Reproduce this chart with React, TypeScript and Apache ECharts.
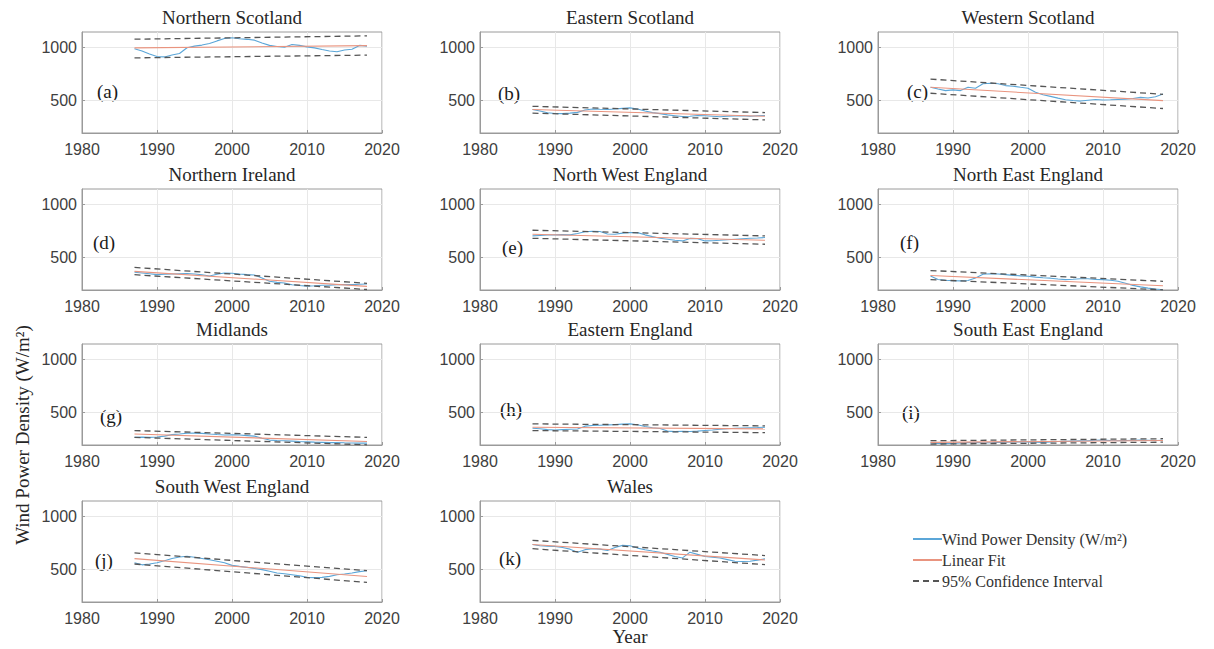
import React, { useEffect, useRef } from "react";
import * as echarts from "echarts";

const regions = [
  "Northern Scotland", "Eastern Scotland", "Western Scotland",
  "Northern Ireland", "North West England", "North East England",
  "Midlands", "Eastern England", "South East England",
  "South West England", "Wales",
];
const panelTags = ["(a)", "(b)", "(c)", "(d)", "(e)", "(f)", "(g)", "(h)", "(i)", "(j)", "(k)"];

const years = [
  1987, 1988, 1989, 1990, 1991, 1992, 1993, 1994, 1995, 1996, 1997, 1998, 1999, 2000, 2001, 2002,
  2003, 2004, 2005, 2006, 2007, 2008, 2009, 2010, 2011, 2012, 2013, 2014, 2015, 2016, 2017, 2018,
];

const wpdNorthernScotland = [990, 968, 940, 915, 912, 930, 945, 1000, 1015, 1025, 1040, 1065, 1088, 1095, 1085, 1080, 1072, 1045, 1022, 1012, 1005, 1030, 1022, 1008, 998, 982, 968, 962, 978, 985, 1022, 1015];
const wpdEasternScotland = [410, 395, 378, 372, 370, 375, 382, 405, 415, 412, 410, 415, 420, 425, 415, 395, 380, 370, 358, 350, 342, 345, 352, 350, 345, 340, 345, 348, 350, 345, 350, 352];
const wpdWesternScotland = [622, 605, 590, 597, 590, 622, 613, 655, 661, 655, 638, 632, 622, 613, 575, 550, 535, 518, 502, 495, 490, 498, 505, 500, 502, 505, 508, 515, 525, 520, 532, 558];
const wpdNorthernIreland = [355, 348, 340, 332, 335, 338, 340, 342, 338, 330, 318, 335, 348, 345, 338, 332, 328, 300, 268, 258, 252, 235, 228, 222, 225, 230, 232, 235, 238, 236, 240, 242];
const wpdNorthWestEngland = [702, 706, 710, 712, 714, 712, 725, 742, 746, 744, 720, 718, 728, 734, 733, 712, 695, 680, 670, 660, 654, 678, 676, 654, 656, 660, 665, 670, 675, 679, 682, 686];
const wpdNorthEastEngland = [318, 285, 278, 274, 272, 276, 300, 335, 340, 338, 332, 325, 320, 316, 308, 302, 298, 290, 284, 288, 293, 292, 286, 284, 278, 268, 250, 229, 215, 203, 195, 188];
const wpdMidlands = [258, 260, 258, 262, 270, 284, 290, 297, 298, 296, 290, 285, 281, 282, 280, 275, 270, 250, 232, 228, 226, 222, 218, 215, 212, 210, 208, 209, 206, 204, 203, 203];
const wpdEasternEngland = [345, 340, 332, 329, 332, 335, 338, 365, 371, 374, 377, 380, 384, 387, 378, 361, 350, 342, 318, 313, 316, 314, 318, 323, 328, 335, 340, 345, 348, 350, 352, 355];
const wpdSouthEastEngland = [205, 200, 198, 200, 205, 208, 210, 205, 206, 210, 212, 214, 216, 215, 212, 210, 214, 218, 220, 222, 224, 226, 230, 232, 228, 226, 228, 230, 232, 230, 228, 230];
const wpdSouthWestEngland = [560, 540, 548, 560, 580, 600, 615, 622, 612, 600, 588, 575, 560, 535, 525, 516, 505, 494, 478, 462, 455, 446, 435, 420, 418, 420, 430, 446, 452, 462, 475, 484];
const wpdWales = [735, 722, 718, 716, 705, 690, 661, 685, 694, 690, 677, 705, 726, 722, 700, 684, 672, 661, 640, 619, 606, 661, 640, 619, 612, 606, 590, 574, 572, 575, 585, 597];

const wpdSeries = [
  wpdNorthernScotland, wpdEasternScotland, wpdWesternScotland,
  wpdNorthernIreland, wpdNorthWestEngland, wpdNorthEastEngland,
  wpdMidlands, wpdEasternEngland, wpdSouthEastEngland,
  wpdSouthWestEngland, wpdWales,
];

// Linear fit and 95% confidence bounds at 1987 and 2018
const fitStart = [998, 410, 622, 363, 718, 323, 290, 355, 210, 599, 735];
const fitEnd = [1020, 345, 494, 220, 660, 226, 219, 339, 228, 429, 587];
const upperStart = [1081, 440, 700, 401, 756, 371, 323, 387, 226, 654, 774];
const upperEnd = [1113, 380, 555, 249, 702, 268, 258, 368, 245, 484, 629];
const lowerStart = [903, 375, 565, 331, 679, 284, 258, 323, 194, 548, 694];
const lowerEnd = [929, 310, 419, 190, 622, 187, 187, 303, 212, 372, 542];

const xTicks = [1980, 1990, 2000, 2010, 2020];
const yTicks = [500, 1000];

const NAME_WPD = "Wind Power Density (W/m²)";
const NAME_FIT = "Linear Fit";
const NAME_CI = "95% Confidence Interval";

const BLUE = "#5ba6d8";
const RED = "#e9947f";
const GREY = "#555555";
const SERIF = '"Liberation Serif", "DejaVu Serif", serif';
const SANS = '"Liberation Sans", Arial, sans-serif';

const colLeft = [82, 480, 878];
const rowTop = [32, 189, 344, 501];
const plotW = 300;
const plotH = 101;

export default function App() {
  const ref = useRef<HTMLDivElement>(null);

  useEffect(() => {
    if (!ref.current) return;
    const chart = echarts.init(ref.current, undefined, { renderer: "svg" });

    const grids: any[] = [];
    const xAxes: any[] = [];
    const yAxes: any[] = [];
    const series: any[] = [];
    const graphics: any[] = [];

    const tagOffsets = [
      [15, 59], [18, 61], [29, 59],
      [11, 53], [22, 58], [22, 53],
      [18, 72], [20, 65], [24, 68],
      [13, 59], [19, 57],
    ];

    regions.forEach((name, i) => {
      const left = colLeft[i % 3];
      const top = rowTop[Math.floor(i / 3)];
      grids.push({
        left, top, width: plotW, height: plotH,
        show: true, borderColor: "#9a9a9a", borderWidth: 1, backgroundColor: "#ffffff",
        containLabel: false,
      });
      xAxes.push({
        gridIndex: i, type: "value", min: 1980, max: 2020, interval: 10,
        axisLine: { show: true, lineStyle: { color: "#9a9a9a" } },
        axisTick: { show: true, inside: true, length: 3, lineStyle: { color: "#9a9a9a" } },
        axisLabel: {
          show: true, fontFamily: SANS, fontSize: 16, color: "#404040", margin: 8,
          customValues: xTicks, formatter: (v: number) => String(v),
        },
        splitLine: { show: true, lineStyle: { color: "#e8e8e8", width: 1 } },
      });
      yAxes.push({
        gridIndex: i, type: "value", min: 185, max: 1150,
        axisLine: { show: true, lineStyle: { color: "#9a9a9a" } },
        axisTick: { show: true, inside: true, length: 3, customValues: yTicks, lineStyle: { color: "#9a9a9a" } },
        axisLabel: {
          show: true, fontFamily: SANS, fontSize: 16, color: "#404040", margin: 5,
          customValues: yTicks, formatter: (v: number) => String(v),
        },
        splitLine: { show: true, lineStyle: { color: "#e8e8e8", width: 1 } },
      });

      const common = { type: "line", xAxisIndex: i, yAxisIndex: i, symbol: "none", showSymbol: false, silent: true };
      series.push({
        ...common, name: NAME_WPD,
        data: years.map((y, j) => [y, wpdSeries[i][j]]),
        lineStyle: { color: BLUE, width: 1.1 }, itemStyle: { color: BLUE },
      });
      series.push({
        ...common, name: NAME_FIT,
        data: [[years[0], fitStart[i]], [years[years.length - 1], fitEnd[i]]],
        lineStyle: { color: RED, width: 1.1 }, itemStyle: { color: RED },
      });
      series.push({
        ...common, name: NAME_CI,
        data: [[years[0], upperStart[i]], [years[years.length - 1], upperEnd[i]]],
        lineStyle: { color: GREY, width: 1.3, type: [6, 4] }, itemStyle: { color: GREY },
      });
      series.push({
        ...common, name: NAME_CI,
        data: [[years[0], lowerStart[i]], [years[years.length - 1], lowerEnd[i]]],
        lineStyle: { color: GREY, width: 1.3, type: [6, 4] }, itemStyle: { color: GREY },
      });

      graphics.push({
        type: "text", x: left + plotW / 2, y: top - 15,
        style: { text: name, font: `19px ${SERIF}`, fill: "#262626", textAlign: "center", textVerticalAlign: "middle" },
        silent: true,
      });
      graphics.push({
        type: "text", x: left + tagOffsets[i][0], y: top + tagOffsets[i][1],
        style: { text: panelTags[i], font: `19px ${SERIF}`, fill: "#1a1a1a", textAlign: "left", textVerticalAlign: "middle" },
        silent: true,
      });
    });

    graphics.push({
      type: "text", x: 22, y: 435, rotation: Math.PI / 2,
      style: { text: "Wind Power Density (W/m²)", font: `19px ${SERIF}`, fill: "#262626", textAlign: "center", textVerticalAlign: "middle" },
      silent: true,
    });
    graphics.push({
      type: "text", x: 630, y: 636,
      style: { text: "Year", font: `19px ${SERIF}`, fill: "#262626", textAlign: "center", textVerticalAlign: "middle" },
      silent: true,
    });

    chart.setOption({
      animation: false,
      backgroundColor: "#ffffff",
      grid: grids,
      xAxis: xAxes,
      yAxis: yAxes,
      series,
      graphic: graphics,
      legend: {
        data: [NAME_WPD, NAME_FIT, NAME_CI],
        orient: "vertical",
        left: 907, top: 526,
        itemWidth: 29, itemHeight: 14, itemGap: 5,
        selectedMode: false,
        itemStyle: { opacity: 0, borderWidth: 0 },
        textStyle: { fontFamily: SERIF, fontSize: 16, color: "#333333", padding: [0, 0, 0, -5] },
      },
    });

    return () => chart.dispose();
  }, []);

  return <div ref={ref} style={{ position: "absolute", left: 0, top: 0, width: 1214, height: 649 }} />;
}
